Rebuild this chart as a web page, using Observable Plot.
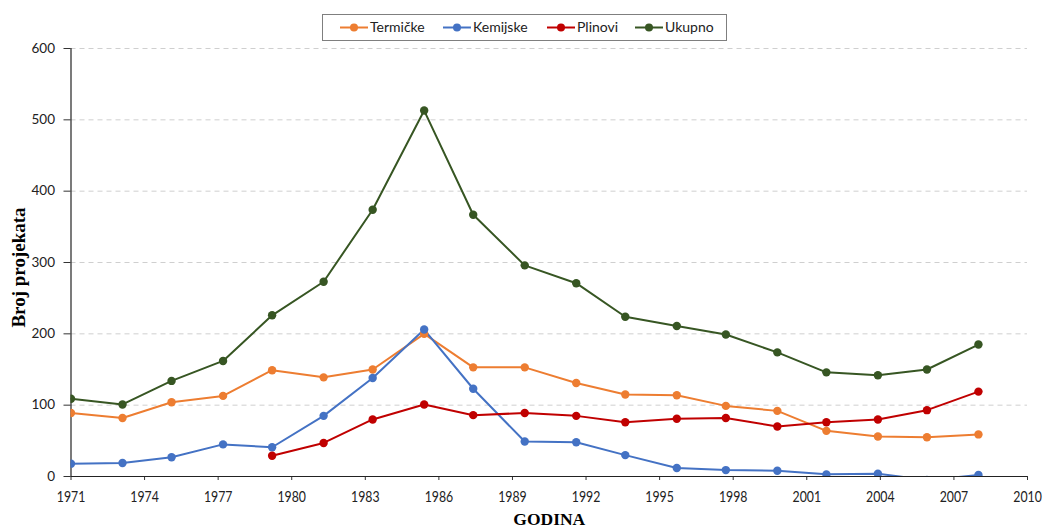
<!DOCTYPE html>
<html><head><meta charset="utf-8">
<script src="https://cdn.jsdelivr.net/npm/d3@7"></script>
<script src="https://cdn.jsdelivr.net/npm/@observablehq/plot@0.6"></script>
<style>
body{margin:0;background:#fff;}
#wrap{position:relative;width:1046px;height:529px;}
#legend{position:absolute;left:322px;top:14px;}
</style></head><body><div id="wrap"><div id="chart"></div><div id="legend"></div></div>
<script>
const years = [1971.0, 1973.1, 1975.1, 1977.2, 1979.2, 1981.3, 1983.3, 1985.4, 1987.4, 1989.5, 1991.6, 1993.6, 1995.7, 1997.7, 1999.8, 2001.8, 2003.9, 2005.9, 2008.0];
const termicke = [89, 82, 104, 113, 149, 139, 150, 200, 153, 153, 131, 115, 114, 99, 92, 64, 56, 55, 59];
const kemijske = [18, 19, 27, 45, 41, 85, 138, 206, 123, 49, 48, 30, 12, 9, 8, 3, 4, -5, 2];
const plinovi = [null, null, null, null, 29, 47, 80, 101, 86, 89, 85, 76, 81, 82, 70, 76, 80, 93, 119];
const ukupno = [109, 101, 134, 162, 226, 273, 374, 513, 367, 296, 271, 224, 211, 199, 174, 146, 142, 150, 185];
const seriesNames = ["Termičke", "Kemijske", "Plinovi", "Ukupno"];
const seriesColors = ["#ED7D31", "#4472C4", "#C00000", "#375623"];
const xTicks = [1971, 1974, 1977, 1980, 1983, 1986, 1989, 1992, 1995, 1998, 2001, 2004, 2007, 2010];
const yTicks = [0, 100, 200, 300, 400, 500, 600];
const xTitle = "GODINA";
const yTitle = "Broj projekata";

const valuesBySeries = [termicke, kemijske, plinovi, ukupno];
const rows = [];
seriesNames.forEach((s, k) => years.forEach((yr, i) => {
  const v = valuesBySeries[k][i];
  if (v != null) rows.push({series: s, year: yr, value: v});
}));

const chart = Plot.plot({
  width: 1046, height: 529,
  marginLeft: 70.5, marginRight: 19, marginTop: 48, marginBottom: 53,
  style: {fontFamily: "Lato, sans-serif", background: "#fff"},
  x: {domain: [1971, 2010]},
  y: {domain: [0, 600]},
  color: {domain: seriesNames, range: seriesColors},
  marks: [
    Plot.gridY(yTicks.filter(d => d > 0), {stroke: "#cfcfcf", strokeOpacity: 1, strokeDasharray: "5,4"}),
    Plot.axisY(yTicks, {tickSize: 7, tickPadding: 9, fontSize: 13.5, label: null, stroke: "#333", color: "#222"}),
    Plot.axisX(xTicks, {tickSize: 4, tickPadding: 11, fontSize: 15, label: null, tickFormat: d => String(d), stroke: "#333", color: "#222"}),
    Plot.ruleX([1971], {stroke: "#222", strokeWidth: 1.2}),
    Plot.ruleY([0], {stroke: "#222", strokeWidth: 1.2}),
    Plot.line(rows, {x: "year", y: "value", stroke: "series", z: "series", strokeWidth: 2, clip: "frame"}),
    Plot.dot(rows, {x: "year", y: "value", fill: "series", r: 4.2, clip: "frame"}),
    Plot.text([yTitle], {frameAnchor: "left", textAnchor: "middle", lineAnchor: "middle", dx: -52, dy: 5, rotate: -90, fontFamily: "Liberation Serif", fontWeight: "bold", fontSize: 19, fill: "#000"}),
    Plot.text([xTitle], {frameAnchor: "bottom", textAnchor: "middle", lineAnchor: "middle", dy: 43, fontFamily: "Liberation Serif", fontWeight: "bold", fontSize: 17.5, fill: "#000"})
  ]
});
document.getElementById("chart").appendChild(chart);

// condense the x tick labels horizontally like the reference
d3.select(chart).selectAll("g[aria-label='x-axis tick label'] text")
  .each(function() {
    const t = this.getAttribute("transform") || "";
    if (!t.includes("scale")) this.setAttribute("transform", t + " scale(0.82,1)");
  });

// legend
const lg = d3.select("#legend").append("svg").attr("width", 406).attr("height", 28);
lg.append("rect").attr("x", 0.5).attr("y", 0.5).attr("width", 404).attr("height", 26)
  .attr("fill", "#fff").attr("stroke", "#7f7f7f");
const swX = [18, 121, 225, 313];
seriesNames.forEach((s, k) => {
  const g = lg.append("g").attr("transform", `translate(${swX[k]},13.5)`);
  g.append("line").attr("x1", 0).attr("x2", 28).attr("stroke", seriesColors[k]).attr("stroke-width", 2);
  g.append("circle").attr("cx", 14).attr("r", 4).attr("fill", seriesColors[k]);
  g.append("text").attr("x", 30).attr("dy", "0.35em").attr("font-family", "Lato, sans-serif")
    .attr("font-size", 14).attr("fill", "#222").text(s);
});
</script></body></html>
